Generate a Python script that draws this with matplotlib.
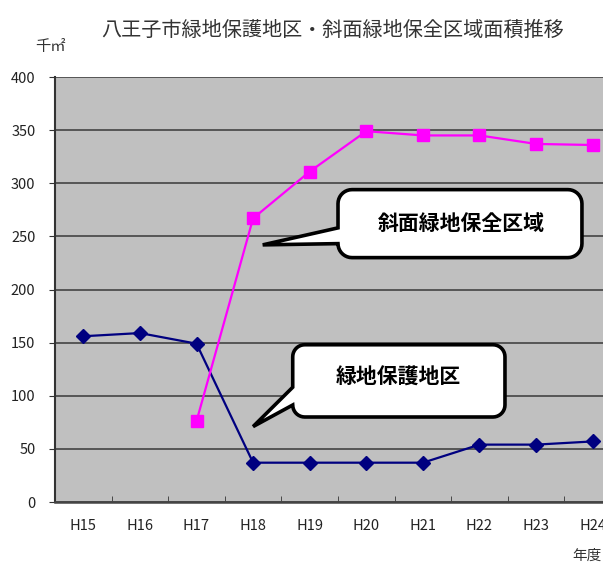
import numpy as np
import matplotlib
matplotlib.use('Agg')
import matplotlib.pyplot as plt
from matplotlib.path import Path
from matplotlib.patches import PathPatch
from matplotlib.transforms import IdentityTransform

plt.rcParams['font.family'] = ['Noto Sans CJK JP', 'DejaVu Sans']

# データ
nendo = ['H15', 'H16', 'H17', 'H18', 'H19', 'H20', 'H21', 'H22', 'H23', 'H24']
ryokuchi_hogo = [156, 159, 149, 37, 37, 37, 37, 54, 54, 57]
shamen_hozen = [None, None, 76, 267, 311, 349, 345, 345, 337, 336]
yticks = [0, 50, 100, 150, 200, 250, 300, 350, 400]

W, H = 603, 564
fig = plt.figure(figsize=(W / 100, H / 100), dpi=100)
ax = fig.add_axes([55 / W, 62 / H, 566 / W, 425 / H])
ax.set_facecolor('#c0c0c0')

x = np.arange(len(nendo))
s2 = np.array([np.nan if v is None else v for v in shamen_hozen], dtype=float)

ax.plot(x, ryokuchi_hogo, '-', color='#000080', lw=1.6, marker='D',
        markersize=7, zorder=3)
ax.plot(x, s2, '-', color='#ff00ff', lw=1.6, marker='s',
        markersize=8, zorder=3)

ax.set_xlim(-0.5, len(nendo) - 0.5)
ax.set_ylim(0, 400)
ax.set_yticks(yticks)
ax.set_yticklabels([str(v) for v in yticks], fontsize=10.5, color='#222222')
ax.set_xticks(x)
ax.set_xticklabels(nendo, fontsize=10.5, color='#222222')
ax.set_xticks(np.arange(0.5, len(nendo) - 0.5, 1), minor=True)
ax.tick_params(axis='x', which='major', length=0, pad=12)
ax.tick_params(axis='x', which='minor', length=4, direction='in', color='#333333')
ax.tick_params(axis='y', length=4, direction='out', color='#333333', pad=10)

ax.yaxis.grid(True, color='#444444', lw=1.2)
ax.set_axisbelow(True)
for side in ['top', 'right']:
    ax.spines[side].set_visible(False)
ax.spines['left'].set_color('#333333')
ax.spines['left'].set_linewidth(1.5)
ax.spines['bottom'].set_color('#444444')
ax.spines['bottom'].set_linewidth(1.8)

fig.text(333 / W, 1 - 30 / H, '八王子市緑地保護地区・斜面緑地保全区域面積推移',
         ha='center', va='center', fontsize=14.5, color='#333333')
fig.text(50 / W, 1 - 47 / H, '千㎡', ha='center', va='center',
         fontsize=11, color='#333333')
fig.text(572 / W, 1 - 556 / H, '年度', ha='left', va='center',
         fontsize=10.5, color='#333333')


def bubble(box, tail, r=14):
    # box, tail はデータ座標 -> ピクセルに変換して吹き出しを作る
    (bx0, by0), (bx1, by1) = ax.transData.transform(box)
    x0, x1 = min(bx0, bx1), max(bx0, bx1)
    y0, y1 = min(by0, by1), max(by0, by1)
    hi, lo, tip = ax.transData.transform(tail)
    hy = min(hi[1], y1 - r)
    ly = max(lo[1], y0 + r)

    def arc(cx, cy, a0, a1):
        t = np.linspace(np.radians(a0), np.radians(a1), 10)
        return [(cx + r * np.cos(a), cy + r * np.sin(a)) for a in t]

    pts = []
    pts += arc(x1 - r, y0 + r, -90, 0)
    pts += arc(x1 - r, y1 - r, 0, 90)
    pts += arc(x0 + r, y1 - r, 90, 180)
    pts += [(x0, hy), (tip[0], tip[1]), (x0, ly)]
    pts += arc(x0 + r, y0 + r, 180, 270)
    pts.append(pts[0])
    codes = [Path.MOVETO] + [Path.LINETO] * (len(pts) - 2) + [Path.CLOSEPOLY]
    p = PathPatch(Path(pts, codes), facecolor='white', edgecolor='black',
                  lw=2.6, transform=IdentityTransform(), zorder=5,
                  joinstyle='miter')
    fig.add_artist(p)
    return (x0 + x1) / 2, (y0 + y1) / 2


cx, cy = bubble([(4.5, 294), (8.81, 230)], [(4.5, 258), (4.5, 236), (3.17, 242)])
fig.text(cx / W + 0.003, cy / H, '斜面緑地保全区域', ha='center', va='center',
         fontsize=15, fontweight='bold', zorder=6)

cx, cy = bubble([(3.7, 148), (7.45, 80)], [(3.7, 108), (3.7, 88), (3.0, 71)],
                r=12)
fig.text(cx / W, cy / H + 0.006, '緑地保護地区', ha='center', va='center',
         fontsize=15, fontweight='bold', zorder=6)

fig.savefig('out.png', dpi=100)
